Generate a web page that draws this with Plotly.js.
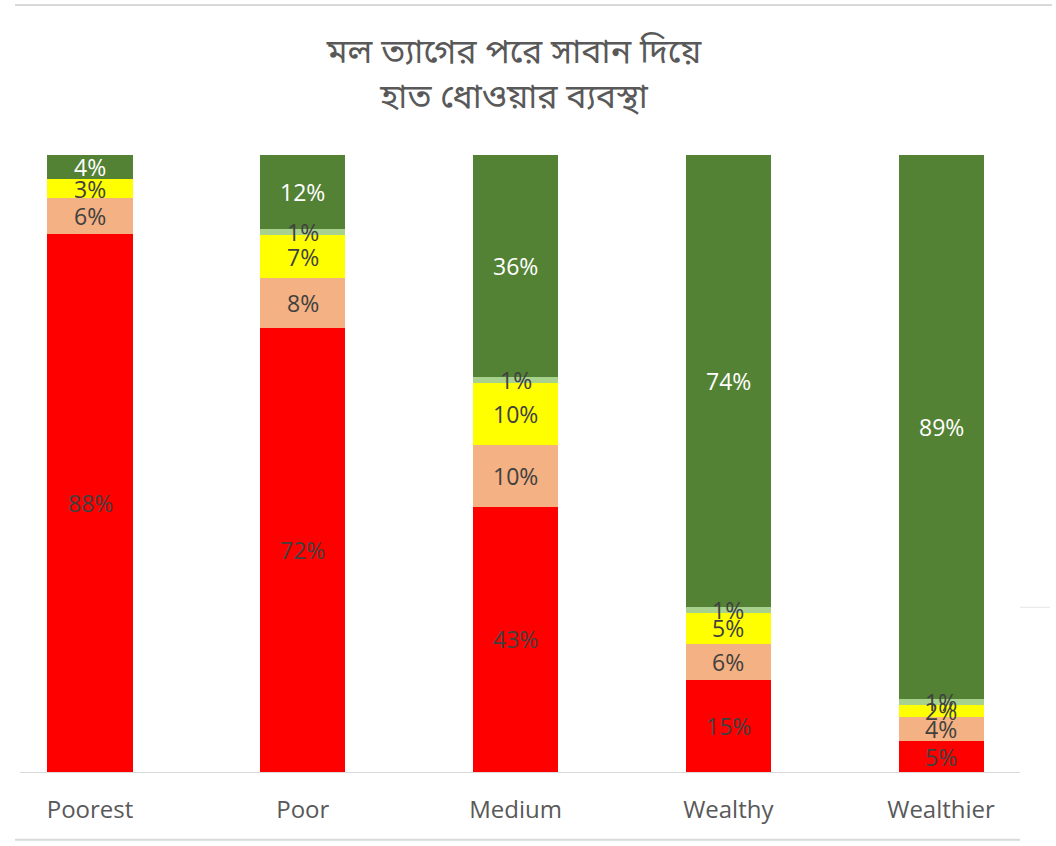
<!DOCTYPE html>
<html>
<head>
<meta charset="utf-8">
<script src="https://cdn.plot.ly/plotly-3.0.1.min.js"></script>
<style>
  html, body { margin: 0; padding: 0; background: #fff; }
  #chart { width: 1056px; height: 846px; }
</style>
</head>
<body>
<div id="chart"></div>
<script>
// wealth groups along the x axis
const categories = ['Poorest', 'Poor', 'Medium', 'Wealthy', 'Wealthier'];

// stacked shares (%), bottom to top
const noFacility = [88, 72, 43, 15, 5];
const unimproved = [6, 8, 10, 6, 4];
const limited = [3, 7, 10, 5, 2];
const basicOther = [0, 1, 1, 1, 1];
const basicSoap = [4, 12, 36, 74, 89];

const chartTitle = 'মল ত্যাগের পরে সাবান দিয়ে<br>হাত ধোওয়ার ব্যবস্থা';

const labelFont = '"Open Sans", "Noto Sans", sans-serif';

const series = [
  { values: noFacility, color: '#FF0000', textColor: '#404040' },
  { values: unimproved, color: '#F4B183', textColor: '#404040' },
  { values: limited, color: '#FFFF00', textColor: '#404040' },
  { values: basicOther, color: '#A9D18E', textColor: '#404040' },
  { values: basicSoap, color: '#548235', textColor: '#FFFFFF' }
];

const traces = series.map((s) => ({
  type: 'bar',
  x: categories,
  y: s.values,
  marker: { color: s.color },
  hoverinfo: 'skip',
  showlegend: false
}));

// data labels drawn on top of every bar (like Excel), centred in each 100%-normalised segment
const labels = [];
categories.forEach((cat, i) => {
  const total = series.reduce((acc, s) => acc + s.values[i], 0);
  let base = 0;
  series.forEach((s) => {
    const share = (s.values[i] / total) * 100;
    if (s.values[i] > 0) {
      labels.push({
        x: cat,
        y: base + share / 2,
        xref: 'x',
        yref: 'y',
        text: s.values[i] + '%',
        showarrow: false,
        xanchor: 'center',
        yanchor: 'middle',
        font: { size: 23, color: s.textColor, family: labelFont }
      });
    }
    base += share;
  });
});

const frameLine = { color: '#D9D9D9', width: 2 };

const layout = {
  width: 1056,
  height: 846,
  margin: { l: 20, r: 36, t: 155, b: 74 },
  paper_bgcolor: '#FFFFFF',
  plot_bgcolor: '#FFFFFF',
  barmode: 'stack',
  barnorm: 'percent',
  bargap: 0.6,
  title: {
    text: chartTitle,
    x: 0.494,
    xref: 'paper',
    xanchor: 'center',
    y: 0.925,
    yref: 'container',
    yanchor: 'middle',
    font: { size: 34, color: '#595959', family: '"Noto Sans Bengali", "Noto Sans", sans-serif' }
  },
  xaxis: {
    type: 'category',
    range: [-0.329, 4.371],
    showline: true,
    linecolor: '#D9D9D9',
    linewidth: 1,
    ticks: '',
    ticklabelstandoff: 16,
    showgrid: false,
    zeroline: false,
    tickfont: { size: 24, color: '#595959', family: labelFont },
    fixedrange: true
  },
  yaxis: {
    range: [0, 100],
    visible: false,
    showgrid: false,
    zeroline: false,
    fixedrange: true
  },
  annotations: labels,
  shapes: [
    // chart frame remnants
    { type: 'line', xref: 'paper', yref: 'paper', x0: -0.005, x1: 1.032, y0: 1.243, y1: 1.243, line: frameLine },
    { type: 'line', xref: 'paper', yref: 'paper', x0: -0.005, x1: 1, y0: -0.11, y1: -0.11, line: frameLine },
    { type: 'line', xref: 'paper', yref: 'paper', x0: 1, x1: 1.03, y0: 0.267, y1: 0.267, line: { color: '#E6E6E6', width: 1 } }
  ]
};

Plotly.newPlot('chart', traces, layout, { displayModeBar: false, staticPlot: true });
</script>
</body>
</html>
